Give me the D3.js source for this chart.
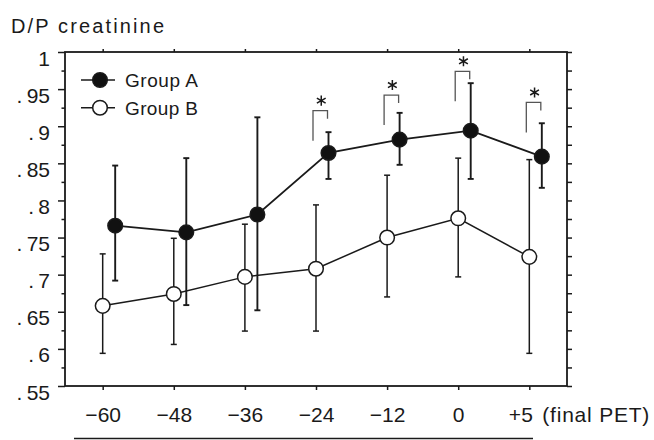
<!DOCTYPE html>
<html>
<head>
<meta charset="utf-8">
<script src="https://cdn.jsdelivr.net/npm/d3@7"></script>
<style>
  body { margin: 0; background: #fff; }
  svg { display: block; font-family: "Liberation Sans", Arial, sans-serif; }
</style>
</head>
<body>
<div id="chart"></div>
<script>
// 1. Datos
const categories  = ["−60", "−48", "−36", "−24", "−12", "0", "+5"];
const groupAMean  = [0.766, 0.757, 0.781, 0.864, 0.882, 0.894, 0.859];
const groupAUpper = [0.847, 0.857, 0.912, 0.892, 0.918, 0.958, 0.904];
const groupALower = [0.692, 0.659, 0.652, 0.829, 0.848, 0.829, 0.817];
const groupBMean  = [0.658, 0.674, 0.697, 0.708, 0.750, 0.776, 0.724];
const groupBUpper = [0.728, 0.749, 0.768, 0.794, 0.834, 0.857, 0.855];
const groupBLower = [0.594, 0.606, 0.624, 0.624, 0.670, 0.697, 0.594];
const significant = [false, false, false, true, true, true, true];
const bracketLevel = [null, null, null, 0.921, 0.942, 0.974, 0.932];
const yMajorTicks = [0.55, 0.6, 0.65, 0.7, 0.75, 0.8, 0.85, 0.9, 0.95, 1];
const yMinorTicks = [0.575, 0.625, 0.675, 0.725, 0.775, 0.825, 0.875, 0.925, 0.975];
const legendLabels = ["Group A", "Group B"];

// 2. Dimensiones
const W = 654, H = 440;
const plot = { left: 65, right: 567, top: 52, bottom: 386 };
const offsetA = 12.5; // desplazamiento horizontal del grupo A

const svg = d3.select("#chart")
  .append("svg")
    .attr("width", W)
    .attr("height", H);

// 3. Escalas
const x = d3.scalePoint()
  .domain(categories)
  .range([plot.left, plot.right])
  .padding(0.53);

const y = d3.scaleLinear()
  .domain([0.55, 1])
  .range([plot.bottom, plot.top]);

const fmt = v => v === 1 ? "1" : ".\u2009" + d3.format(".2f")(v).slice(2).replace(/0$/, "");

// 4. Ejes
// izquierda, ticks mayores con etiquetas
const gLeft = svg.append("g")
  .attr("transform", `translate(${plot.left},0)`)
  .call(d3.axisLeft(y).tickValues(yMajorTicks).tickSize(7).tickFormat(fmt));
// izquierda, ticks menores
const gLeftMinor = svg.append("g")
  .attr("transform", `translate(${plot.left},0)`)
  .call(d3.axisLeft(y).tickValues(yMinorTicks).tickSize(3.5).tickFormat(""));
// derecha
const gRight = svg.append("g")
  .attr("transform", `translate(${plot.right},0)`)
  .call(d3.axisRight(y).tickValues(yMajorTicks.concat(yMinorTicks)).tickSize(5).tickFormat(""));
// abajo
const gBottom = svg.append("g")
  .attr("transform", `translate(0,${plot.bottom})`)
  .call(d3.axisBottom(x).tickSize(4));
// arriba
const gTop = svg.append("g")
  .attr("transform", `translate(0,${plot.top})`)
  .call(d3.axisTop(x).tickSize(3).tickFormat(""));

[gLeft, gLeftMinor, gRight, gBottom, gTop].forEach(g => {
  g.select(".domain").remove();
  g.selectAll("line").attr("stroke", "#1a1a1a").attr("stroke-width", 1.5);
});

gLeft.selectAll("text")
  .attr("font-family", "'Liberation Sans', Arial, sans-serif")
  .attr("font-size", 21)
  .attr("fill", "#1a1a1a")
  .attr("x", -15)
  .attr("dy", null)
  .attr("y", 13);

gBottom.selectAll("text")
  .attr("font-family", "'Liberation Sans', Arial, sans-serif")
  .attr("font-size", 21)
  .attr("fill", "#1a1a1a")
  .attr("dy", null)
  .attr("y", 36);

// la última etiqueta (+5) se alinea a la derecha del tick
gBottom.selectAll(".tick").filter((d, i) => i === categories.length - 1)
  .select("text")
    .attr("text-anchor", "end")
    .attr("x", 3);

svg.append("text")
  .attr("x", x(categories[categories.length - 1]) + 13)
  .attr("y", plot.bottom + 36)
  .attr("font-size", 21)
  .attr("fill", "#1a1a1a")
  .attr("textLength", 107)
  .attr("lengthAdjust", "spacing")
  .text("(final PET)");

// marco
svg.append("rect")
  .attr("x", plot.left)
  .attr("y", plot.top)
  .attr("width", plot.right - plot.left)
  .attr("height", plot.bottom - plot.top)
  .attr("fill", "none")
  .attr("stroke", "#1a1a1a")
  .attr("stroke-width", 1.8);

// título del eje y
svg.append("text")
  .attr("x", 11)
  .attr("y", 33)
  .attr("font-size", 20)
  .attr("fill", "#1a1a1a")
  .attr("textLength", 153)
  .attr("lengthAdjust", "spacing")
  .text("D/P creatinine");

// línea bajo el eje x
svg.append("line")
  .attr("x1", 74).attr("x2", 533)
  .attr("y1", 438.5).attr("y2", 438.5)
  .attr("stroke", "#1a1a1a")
  .attr("stroke-width", 1.5);

// 5. Preparar series
const series = [
  { key: "A", mean: groupAMean, lo: groupALower, hi: groupAUpper, dx: offsetA, fill: "#111", sw: 1.9 },
  { key: "B", mean: groupBMean, lo: groupBLower, hi: groupBUpper, dx: 0, fill: "#fff", sw: 1.5 }
];

const rows = s => categories.map((c, i) => ({ c, mean: s.mean[i], lo: s.lo[i], hi: s.hi[i], xx: x(c) + s.dx }));

// 6. Barras de error
series.forEach(s => {
  const g = svg.append("g").attr("class", "err-" + s.key)
    .attr("stroke", "#1a1a1a").attr("stroke-width", s.sw);
  const d = rows(s);
  g.selectAll("line.v").data(d).enter().append("line")
    .attr("x1", r => r.xx).attr("x2", r => r.xx)
    .attr("y1", r => y(r.lo)).attr("y2", r => y(r.hi));
  g.selectAll("line.hi").data(d).enter().append("line")
    .attr("x1", r => r.xx - 3).attr("x2", r => r.xx + 3)
    .attr("y1", r => y(r.hi)).attr("y2", r => y(r.hi));
  g.selectAll("line.lo").data(d).enter().append("line")
    .attr("x1", r => r.xx - 3).attr("x2", r => r.xx + 3)
    .attr("y1", r => y(r.lo)).attr("y2", r => y(r.lo));
});

// 7. Líneas y puntos
const line = d3.line().x(r => r.xx).y(r => y(r.mean));

series.forEach(s => {
  svg.append("path")
    .datum(rows(s))
    .attr("fill", "none")
    .attr("stroke", "#1a1a1a")
    .attr("stroke-width", s.key === "A" ? 1.8 : 1.5)
    .attr("d", line);
});

series.forEach(s => {
  svg.selectAll("circle.pt-" + s.key)
    .data(rows(s))
    .enter()
    .append("circle")
      .attr("class", "pt-" + s.key)
      .attr("cx", r => r.xx)
      .attr("cy", r => y(r.mean))
      .attr("r", 7.3)
      .attr("fill", s.fill)
      .attr("stroke", "#1a1a1a")
      .attr("stroke-width", 1.5);
});

// 8. Corchetes de significación
const sig = categories.map((c, i) => ({ c, lvl: bracketLevel[i], on: significant[i] })).filter(d => d.on);
const gSig = svg.append("g");
sig.forEach(d => {
  const x0 = x(d.c) - 3, x1 = x(d.c) + offsetA - 1, yt = y(d.lvl);
  gSig.append("path")
    .attr("d", `M${x0},${yt + 30}V${yt}H${x1}V${yt + 8}`)
    .attr("fill", "none")
    .attr("stroke", "#555")
    .attr("stroke-width", 1.3);
  gSig.append("path")
    .attr("d", d3.symbol(d3.symbolAsterisk, 72)())
    .attr("transform", `translate(${(x0 + x1) / 2 + 1},${yt - 10})`)
    .attr("fill", "none")
    .attr("stroke", "#1a1a1a")
    .attr("stroke-width", 1.5);
});

// 9. Leyenda
const legend = svg.append("g");
legendLabels.forEach((lab, i) => {
  const ly = 80 + i * 27.7;
  legend.append("line")
    .attr("x1", 81).attr("x2", 115)
    .attr("y1", ly).attr("y2", ly)
    .attr("stroke", "#1a1a1a").attr("stroke-width", 1.6);
  legend.append("circle")
    .attr("cx", 100).attr("cy", ly).attr("r", 7.3)
    .attr("fill", series[i].fill)
    .attr("stroke", "#1a1a1a").attr("stroke-width", 1.5);
  legend.append("text")
    .attr("x", 125).attr("y", ly + 7)
    .attr("font-size", 19)
    .attr("fill", "#1a1a1a")
    .attr("textLength", 73)
    .attr("lengthAdjust", "spacing")
    .text(lab);
});
</script>
</body>
</html>
